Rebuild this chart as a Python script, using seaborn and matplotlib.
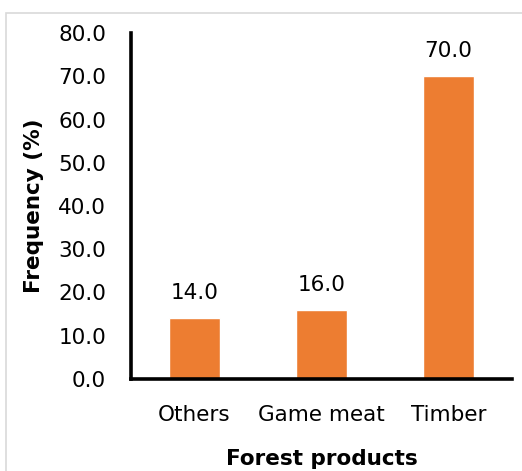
import matplotlib
matplotlib.use("Agg")
import matplotlib.pyplot as plt
import seaborn as sns
import pandas as pd
from matplotlib.patches import Rectangle

categories = ["Others", "Game meat", "Timber"]
frequency = [14.0, 16.0, 70.0]
y_ticks = [0, 10, 20, 30, 40, 50, 60, 70, 80]

df = pd.DataFrame({"product": categories, "freq": frequency})

sns.set_theme(style="white")
plt.rcParams["font.family"] = ["DejaVu Sans"]

W, H = 522, 471
FS = 15.5
fig = plt.figure(figsize=(W / 100, H / 100), dpi=100)
ax = fig.add_axes([131 / W, 1 - 379 / H, (512 - 131) / W, (379 - 33) / H])

sns.barplot(data=df, x="product", y="freq", color="#ED7D31", width=0.4,
            saturation=1, ax=ax)

ax.set_ylim(0, 80)
ax.set_xlim(-0.5, 2.5)
ax.set_yticks(y_ticks)
ax.set_yticklabels([f"{v:.1f}" for v in y_ticks])
ax.tick_params(axis="both", length=0, labelsize=FS, colors="black")
ax.tick_params(axis="y", pad=18)
ax.tick_params(axis="x", pad=19)

for s in ["top", "right"]:
    ax.spines[s].set_visible(False)
for s in ["left", "bottom"]:
    ax.spines[s].set_color("black")
    ax.spines[s].set_linewidth(2.6)

for i, v in enumerate(frequency):
    ax.annotate(f"{v:.1f}", (i, v), xytext=(0, 11), textcoords="offset points",
                ha="center", va="bottom", fontsize=FS, color="black")

ax.set_xlabel("Forest products", fontsize=FS, fontweight="bold",
              labelpad=17, color="black")
ax.set_ylabel("Frequency (%)", fontsize=FS, fontweight="bold",
              labelpad=10, color="black")

# outer chart frame
fig.patches.append(Rectangle((5.5 / W, -0.1), 1.2, 1 - 12.5 / H + 0.1,
                             transform=fig.transFigure, fill=False,
                             edgecolor="#D9D9D9", linewidth=1.2))

fig.savefig("out.png", dpi=100)
